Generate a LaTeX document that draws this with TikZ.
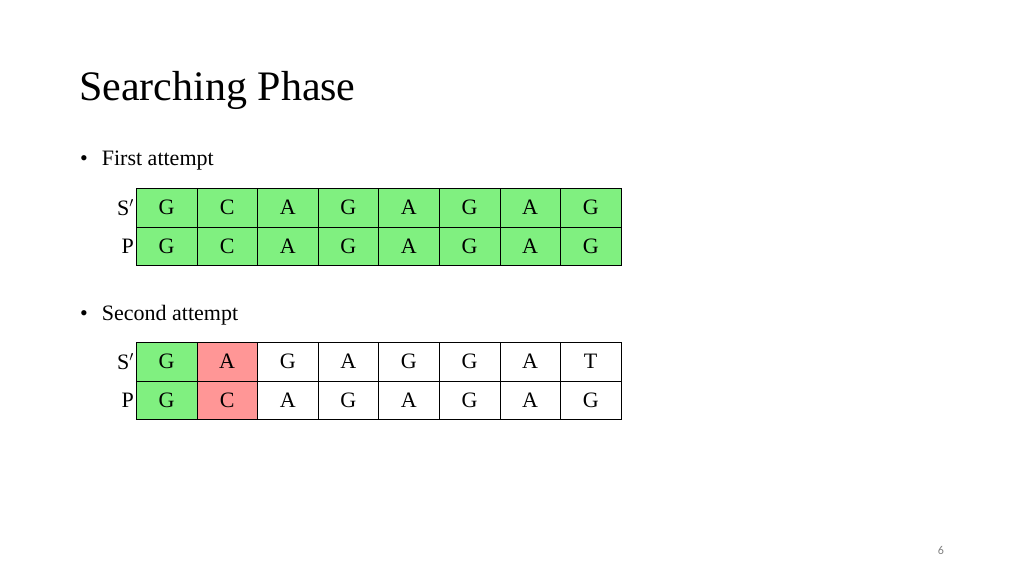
\documentclass[tikz,border=0pt]{standalone}
\usepackage{fontspec}
\setmainfont{Liberation Serif}
\newfontfamily\numfont{Carlito}
\usetikzlibrary{positioning}
\definecolor{matchgreen}{RGB}{128,240,128}
\definecolor{misred}{RGB}{255,150,150}
\tikzset{
  cell/.style={draw, minimum width=60.6pt, minimum height=38.5pt, inner sep=0pt,
    font=\fontsize{22pt}{24pt}\selectfont, anchor=north west},
  rowlabel/.style={anchor=east, font=\fontsize{22pt}{24pt}\selectfont, inner sep=2pt},
  bullet/.style={anchor=west, font=\fontsize{22pt}{26pt}\selectfont, inner sep=0pt}
}
\begin{document}
\begin{tikzpicture}[x=1pt,y=-1pt]
  \useasboundingbox (0,0) rectangle (1024,576);

  \node [anchor=base west, inner sep=0pt, font=\fontsize{42pt}{46pt}\selectfont] (title) at (79,100) {Searching Phase};

  \node [bullet] (b1) at (80,161) {\textbullet\hspace{14pt}First attempt};
  \node [bullet] (b2) at (80,315) {\textbullet\hspace{14pt}Second attempt};

  % first attempt
  \foreach \t [count=\i] in {G,C,A,G,A,G,A,G} {
    \node [cell, fill=matchgreen] (s1\i) at ({136+(\i-1)*60.6},188) {\t};
    \node [cell, fill=matchgreen] (p1\i) at ({136+(\i-1)*60.6},226.5) {\t};
  }
  \node [rowlabel] at (s11.west) {S$'$};
  \node [rowlabel] at (p11.west) {P};

  % second attempt
  \foreach \t/\c [count=\i] in {G/matchgreen,A/misred,G/white,A/white,G/white,G/white,A/white,T/white} {
    \node [cell, fill=\c] (s2\i) at ({136+(\i-1)*60.6},342) {\t};
  }
  \foreach \t/\c [count=\i] in {G/matchgreen,C/misred,A/white,G/white,A/white,G/white,A/white,G/white} {
    \node [cell, fill=\c] (p2\i) at ({136+(\i-1)*60.6},380.5) {\t};
  }
  \node [rowlabel] at (s21.west) {S$'$};
  \node [rowlabel] at (p21.west) {P};

  \node [font=\numfont\fontsize{12pt}{14pt}\selectfont, text=gray] (pagenum) at (941,550) {6};
\end{tikzpicture}
\end{document}
